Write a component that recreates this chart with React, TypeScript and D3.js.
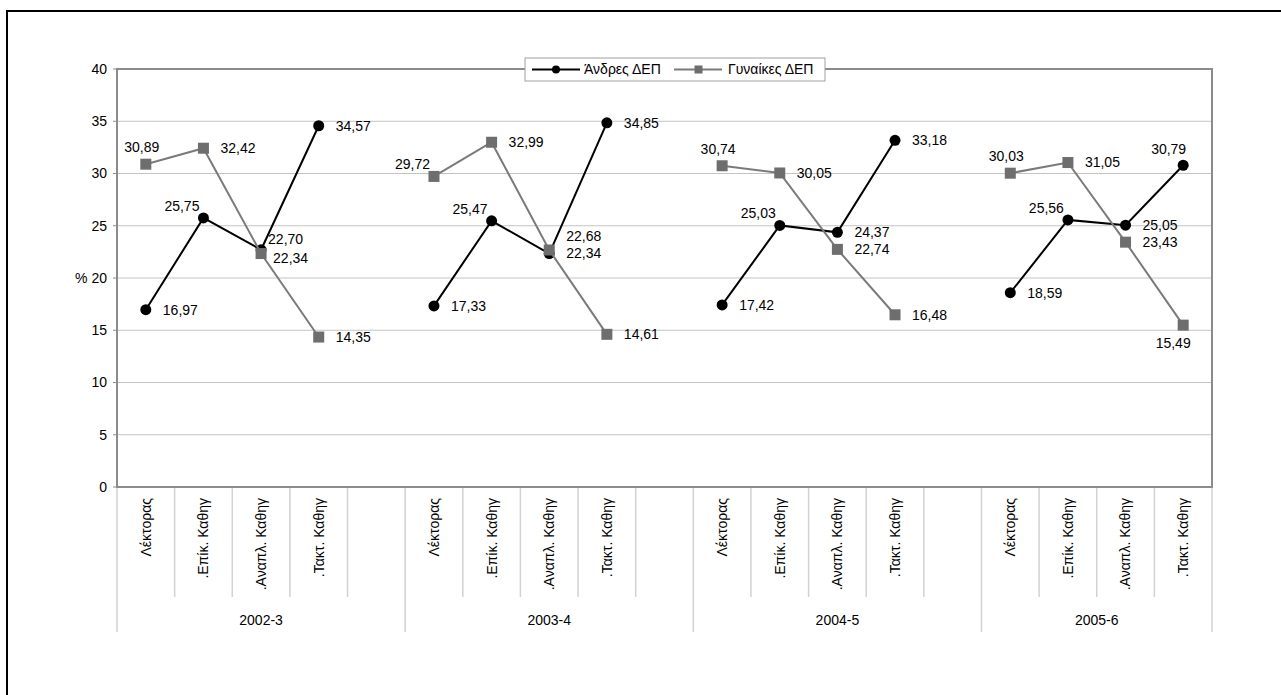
import React from "react";
import * as d3 from "d3";

const groups = ["2002-3", "2003-4", "2004-5", "2005-6"];
const ranks = ["Λέκτορας", ".Επίκ. Καθηγ", ".Αναπλ. Καθηγ", ".Τακτ. Καθηγ"];
const seriesNames = ["Άνδρες ΔΕΠ", "Γυναίκες ΔΕΠ"];
const menValues = [
  [16.97, 25.75, 22.7, 34.57],
  [17.33, 25.47, 22.34, 34.85],
  [17.42, 25.03, 24.37, 33.18],
  [18.59, 25.56, 25.05, 30.79],
];
const womenValues = [
  [30.89, 32.42, 22.34, 14.35],
  [29.72, 32.99, 22.68, 14.61],
  [30.74, 30.05, 22.74, 16.48],
  [30.03, 31.05, 23.43, 15.49],
];
const yTicks = [0, 5, 10, 15, 20, 25, 30, 35, 40];
// label placement keywords
const menLabelPos = [
  ["r", "tl", "rn", "r"],
  ["r", "tl", "r", "r"],
  ["r", "tl", "r", "r"],
  ["r", "tl", "r", "te"],
];
const womenLabelPos = [
  ["t", "r", "rd", "r"],
  ["tl", "r", "ru", "r"],
  ["t", "r", "r", "r"],
  ["t", "r", "r", "b"],
];

const W = 1281;
const H = 695;
const m = { left: 117, top: 69, right: 1212, bottom: 487 };
const FONT = "'Liberation Sans', Arial, sans-serif";
const MEN = "#000000";
const WOMEN_LINE = "#7a7a7a";
const WOMEN_MARK = "#6e6e6e";

const fmt = (v: number) => v.toFixed(2).replace(".", ",");

type LP = { dx: number; dy: number; anchor: string };
const placement: Record<string, LP> = {
  r: { dx: 17, dy: 0, anchor: "start" },
  rn: { dx: 7, dy: -11, anchor: "start" },
  ru: { dx: 17, dy: -14, anchor: "start" },
  rd: { dx: 12, dy: 5, anchor: "start" },
  t: { dx: -4, dy: -17, anchor: "middle" },
  tl: { dx: -4, dy: -12, anchor: "end" },
  te: { dx: 3, dy: -16, anchor: "end" },
  b: { dx: -10, dy: 18, anchor: "middle" },
};

export default function App() {
  const slotKeys: string[] = [];
  groups.forEach((g, gi) => {
    ranks.forEach((r, ri) => slotKeys.push(`${gi}-${ri}`));
    if (gi < groups.length - 1) slotKeys.push(`${gi}-gap`);
  });
  const x = d3
    .scaleBand<string>()
    .domain(slotKeys)
    .range([m.left, m.right])
    .padding(0);
  const bw = x.bandwidth();
  const cx = (gi: number, ri: number) => (x(`${gi}-${ri}`) as number) + bw / 2;
  const y = d3.scaleLinear().domain([0, 40]).range([m.bottom, m.top]);

  const line = d3
    .line<[number, number]>()
    .x((d) => d[0])
    .y((d) => d[1]);

  const seriesData = [menValues, womenValues];
  const seriesPos = [menLabelPos, womenLabelPos];

  return (
    <svg
      width={W}
      height={H}
      style={{ position: "absolute", left: 0, top: 0, background: "#fff" }}
      fontFamily={FONT}
    >
      <rect x={7} y={11} width={1290} height={700} fill="#fff" stroke="#000" strokeWidth={2} />

      {yTicks.map((t) => (
        <line
          key={`g${t}`}
          x1={m.left}
          x2={m.right}
          y1={y(t)}
          y2={y(t)}
          stroke="#c4c4c4"
          strokeWidth={1}
        />
      ))}

      {slotKeys.map((k, i) => {
        const xl = x(k) as number;
        const isGroupStart = i === 0 || slotKeys[i - 1].endsWith("gap");
        return (
          <line
            key={`d${k}`}
            x1={xl}
            x2={xl}
            y1={m.bottom}
            y2={isGroupStart ? 632 : 597}
            stroke="#d2d2d2"
            strokeWidth={1.5}
          />
        );
      })}
      <line x1={m.right} x2={m.right} y1={m.bottom} y2={632} stroke="#d2d2d2" strokeWidth={1.5} />

      <rect
        x={m.left}
        y={m.top}
        width={m.right - m.left}
        height={m.bottom - m.top}
        fill="none"
        stroke="#8c8c8c"
        strokeWidth={2}
      />

      {yTicks.map((t) => (
        <g key={`t${t}`}>
          <line x1={m.left - 4} x2={m.left} y1={y(t)} y2={y(t)} stroke="#8c8c8c" strokeWidth={1} />
          <text x={m.left - 10} y={y(t)} dy="0.35em" textAnchor="end" fontSize={14} fill="#000">
            {t === 20 ? "% 20" : String(t)}
          </text>
        </g>
      ))}

      {groups.map((g, gi) =>
        ranks.map((r, ri) => (
          <text
            key={`c${gi}-${ri}`}
            transform={`translate(${cx(gi, ri)},498) rotate(-90)`}
            dy="0.35em"
            textAnchor="end"
            fontSize={14}
            fill="#000"
          >
            {r}
          </text>
        ))
      )}

      {groups.map((g, gi) => {
        const x0 = x(`${gi}-0`) as number;
        const last = gi < groups.length - 1 ? `${gi}-gap` : `${gi}-${ranks.length - 1}`;
        const x1 = (x(last) as number) + bw;
        return (
          <text key={`gl${g}`} x={(x0 + x1) / 2} y={625} textAnchor="middle" fontSize={14} fill="#000">
            {g}
          </text>
        );
      })}

      {/* men series: line then markers */}
      {groups.map((g, gi) => (
        <g key={`mln${gi}`}>
          <path
            d={line(menValues[gi].map((v, ri) => [cx(gi, ri), y(v)] as [number, number])) || ""}
            fill="none"
            stroke={MEN}
            strokeWidth={2}
          />
          {menValues[gi].map((v, ri) => (
            <circle key={`m${ri}`} cx={cx(gi, ri)} cy={y(v)} r={5.5} fill={MEN} />
          ))}
        </g>
      ))}

      {/* women series: line then markers */}
      {groups.map((g, gi) => (
        <g key={`wln${gi}`}>
          <path
            d={line(womenValues[gi].map((v, ri) => [cx(gi, ri), y(v)] as [number, number])) || ""}
            fill="none"
            stroke={WOMEN_LINE}
            strokeWidth={2}
          />
          {womenValues[gi].map((v, ri) => (
            <rect
              key={`w${ri}`}
              x={cx(gi, ri) - 5.5}
              y={y(v) - 5.5}
              width={11}
              height={11}
              fill={WOMEN_MARK}
            />
          ))}
        </g>
      ))}

      {seriesData.map((sd, si) =>
        sd.map((vals, gi) =>
          vals.map((v, ri) => {
            const p = placement[seriesPos[si][gi][ri]];
            return (
              <text
                key={`lb${si}-${gi}-${ri}`}
                x={cx(gi, ri) + p.dx}
                y={y(v) + p.dy}
                dy="0.35em"
                textAnchor={p.anchor}
                fontSize={14}
                fill="#000"
              >
                {fmt(v)}
              </text>
            );
          })
        )
      )}

      <g>
        <rect x={525} y={58} width={300} height={23} fill="#fff" stroke="#a0a0a0" strokeWidth={1} />
        <line x1={532} x2={580} y1={69.5} y2={69.5} stroke={MEN} strokeWidth={2} />
        <circle cx={556} cy={69.5} r={4} fill={MEN} />
        <text x={584} y={69.5} dy="0.35em" fontSize={14} fill="#000">
          {seriesNames[0]}
        </text>
        <line x1={674} x2={722} y1={69.5} y2={69.5} stroke={WOMEN_LINE} strokeWidth={2} />
        <rect x={694.5} y={65.5} width={8} height={8} fill={WOMEN_MARK} />
        <text x={728} y={69.5} dy="0.35em" fontSize={14} fill="#000">
          {seriesNames[1]}
        </text>
      </g>
    </svg>
  );
}
